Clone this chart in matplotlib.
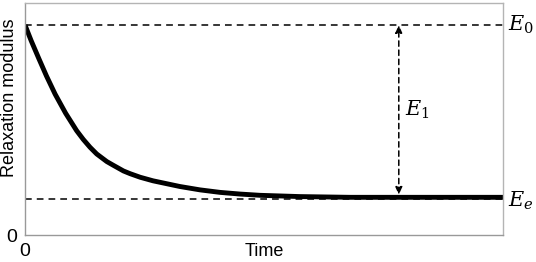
import matplotlib
matplotlib.use("Agg")
import matplotlib.pyplot as plt

# Values (arbitrary units)
time = [0, 1.3, 2.9, 4.5, 6.3, 8.5, 10.8, 12.2, 13.6, 15.0, 17.1, 18.4, 20.6,
        22.0, 24.1, 26.8, 32.4, 36.6, 40.8, 45.0, 49.2, 57.5, 68.0, 78.5, 100]
modulus = [1.000, 0.925, 0.840, 0.757, 0.671, 0.580, 0.497, 0.455, 0.418, 0.386,
           0.350, 0.333, 0.305, 0.292, 0.275, 0.258, 0.231, 0.215, 0.203, 0.195,
           0.189, 0.183, 0.1795, 0.1795, 0.1795]
E0 = 1.0
Ee = 0.1724
arrow_t = 78.2

plt.rcParams["font.family"] = ["Liberation Sans", "DejaVu Sans"]
plt.rcParams["mathtext.fontset"] = "dejavuserif"

fig = plt.figure(figsize=(5.36, 2.62), dpi=100)
ax = fig.add_axes([25 / 536, 27 / 262, 478 / 536, 232 / 262])

dash = (0, (4.4, 3.3))
ax.axhline(E0, color="black", lw=1.1, ls=dash)
ax.axhline(Ee, color="black", lw=1.1, ls=dash)
ax.plot(time, modulus, color="black", lw=3.5, solid_capstyle="butt",
        solid_joinstyle="round")

# E1 double arrow
ax.annotate("", xy=(arrow_t, E0), xytext=(arrow_t, modulus[-1] + 0.012),
            arrowprops=dict(arrowstyle="<|-|>,head_length=0.45,head_width=0.2",
                            color="black", lw=1.1, ls=(0, (3.5, 2.5)),
                            shrinkA=0, shrinkB=0))

ax.set_xlim(0, 100)
ax.set_ylim(0, 1.105)
ax.set_xticks([])
ax.set_yticks([])
for s in ax.spines.values():
    s.set_color("#b4b4b4")
    s.set_linewidth(1.0)
ax.spines["left"].set_color("#999999")
ax.spines["bottom"].set_color("#999999")

# labels
fig.text(10 / 536, 1 - 98 / 262, "Relaxation modulus", rotation=90,
         ha="center", va="center", fontsize=13)
fig.text(264 / 536, 1 - 251 / 262, "Time", ha="center", va="center", fontsize=13)
fig.text(12 / 536, 1 - 238 / 262, "0", ha="center", va="center", fontsize=14)
fig.text(25 / 536, 1 - 251 / 262, "0", ha="center", va="center", fontsize=14)

ax.text(1.01, E0, r"$E_0$", transform=ax.get_yaxis_transform(),
        ha="left", va="center", fontsize=15)
ax.text(1.01, Ee - 0.01, r"$E_e$", transform=ax.get_yaxis_transform(),
        ha="left", va="center", fontsize=15)
ax.text(arrow_t + 1.3, (E0 + Ee) / 2 + 0.01, r"$E_1$", ha="left", va="center",
        fontsize=15)

fig.savefig("out.png", dpi=100)
